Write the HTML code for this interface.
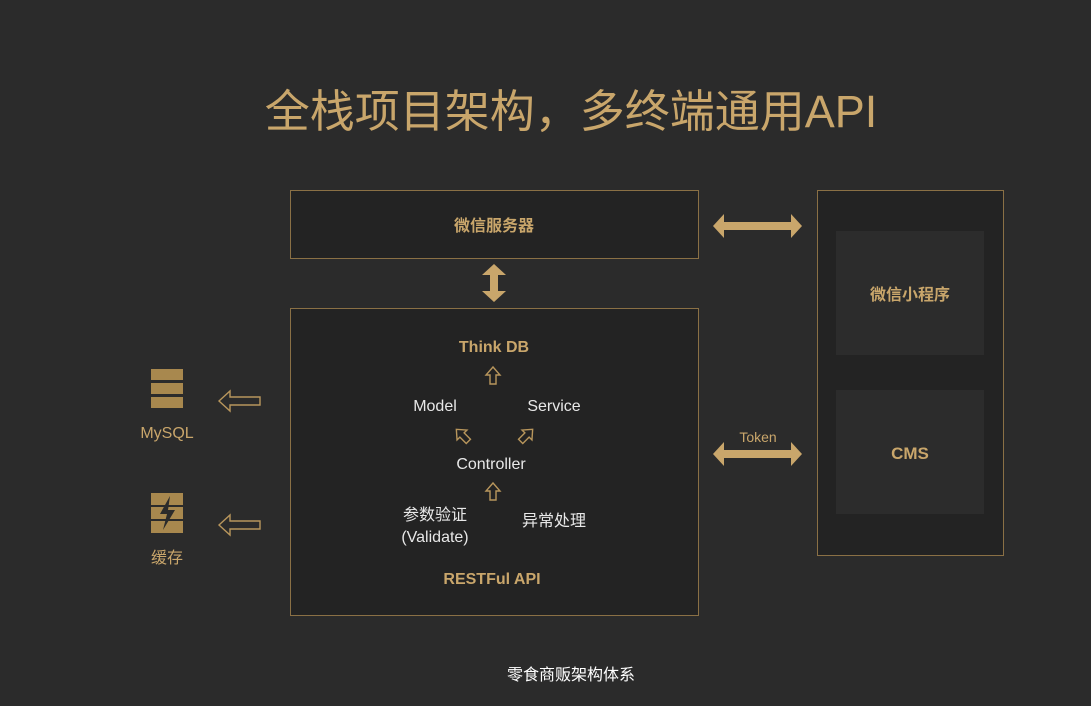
<!DOCTYPE html>
<html><head><meta charset="utf-8"><style>
html,body{margin:0;padding:0;background:#2b2b2b;}
svg{display:block}
text{font-family:"Liberation Sans","Noto Sans CJK SC",sans-serif;}
</style></head><body>
<svg width="1091" height="706" viewBox="0 0 1091 706" xmlns="http://www.w3.org/2000/svg">
<rect width="1091" height="706" fill="#2b2b2b"/>
<text x="571" y="127" text-anchor="middle" font-size="45" fill="#c9a66b">全栈项目架构，多终端通用API</text>

<rect x="290.5" y="190.5" width="408" height="68" fill="#232323" stroke="#8a7045"/>
<text x="494" y="231" text-anchor="middle" font-size="16" font-weight="bold" fill="#c9a66b">微信服务器</text>

<rect x="290.5" y="308.5" width="408" height="307" fill="#232323" stroke="#8a7045"/>
<text x="494" y="352" text-anchor="middle" font-size="16" font-weight="bold" fill="#c9a66b">Think DB</text>
<text x="435" y="411" text-anchor="middle" font-size="16" fill="#e8e8e8">Model</text>
<text x="554" y="411" text-anchor="middle" font-size="16" fill="#e8e8e8">Service</text>
<text x="491" y="469" text-anchor="middle" font-size="16" fill="#e8e8e8">Controller</text>
<text x="435" y="520" text-anchor="middle" font-size="16" fill="#e8e8e8">参数验证</text>
<text x="435" y="542" text-anchor="middle" font-size="16" fill="#e8e8e8">(Validate)</text>
<text x="554" y="526" text-anchor="middle" font-size="16" fill="#e8e8e8">异常处理</text>
<text x="492" y="584" text-anchor="middle" font-size="16" font-weight="bold" fill="#c9a66b">RESTFul API</text>

<g fill="none" stroke="#b8965c" stroke-width="1.4">
<path d="M493 367 L486 375 L490 375 L490 384 L496 384 L496 375 L500 375 Z"/>
<path d="M493 483 L486 491 L490 491 L490 500 L496 500 L496 491 L500 491 Z"/>
<g transform="translate(462,435) rotate(-45)"><path d="M0 -8 L-7 0 L-3 0 L-3 9 L3 9 L3 0 L7 0 Z"/></g>
<g transform="translate(527,435) rotate(45)"><path d="M0 -8 L-7 0 L-3 0 L-3 9 L3 9 L3 0 L7 0 Z"/></g>
<path d="M219 401 L230 391 L230 397 L260 397 L260 405 L230 405 L230 411 Z"/>
<path d="M219 525 L230 515 L230 521 L260 521 L260 529 L230 529 L230 535 Z"/>
</g>

<g fill="#a8884e">
<rect x="151" y="369" width="32" height="11"/>
<rect x="151" y="383" width="32" height="11"/>
<rect x="151" y="397" width="32" height="11"/>
<rect x="151" y="493" width="32" height="40"/>
</g>
<rect x="151" y="505" width="32" height="2" fill="#2b2b2b"/>
<rect x="151" y="519" width="32" height="2" fill="#2b2b2b"/>
<path d="M170 496 L160 514 L167 514 L163 530 L175 510 L168 510 Z" fill="#2b2b2b"/>
<text x="167" y="438" text-anchor="middle" font-size="16" fill="#c9a66b">MySQL</text>
<text x="167" y="563" text-anchor="middle" font-size="16" fill="#c9a66b">缓存</text>

<rect x="817.5" y="190.5" width="186" height="365" fill="#232323" stroke="#8a7045"/>
<rect x="836" y="231" width="148" height="124" fill="#2c2c2c"/>
<rect x="836" y="390" width="148" height="124" fill="#2c2c2c"/>
<text x="910" y="300" text-anchor="middle" font-size="16" font-weight="bold" fill="#c9a66b">微信小程序</text>
<text x="910" y="459" text-anchor="middle" font-size="17" font-weight="bold" fill="#c9a66b">CMS</text>

<g fill="#c9a66b">
<path d="M713 226 L724 214 L724 222 L791 222 L791 214 L802 226 L791 238 L791 230 L724 230 L724 238 Z"/>
<path d="M713 454 L724 442 L724 450 L791 450 L791 442 L802 454 L791 466 L791 458 L724 458 L724 466 Z"/>
<path d="M494 264 L506 275 L498 275 L498 291 L506 291 L494 302 L482 291 L490 291 L490 275 L482 275 Z"/>
</g>
<text x="758" y="442" text-anchor="middle" font-size="14" fill="#c9a66b">Token</text>

<text x="571" y="680" text-anchor="middle" font-size="16" fill="#ffffff">零食商贩架构体系</text>
</svg>
</body></html>
